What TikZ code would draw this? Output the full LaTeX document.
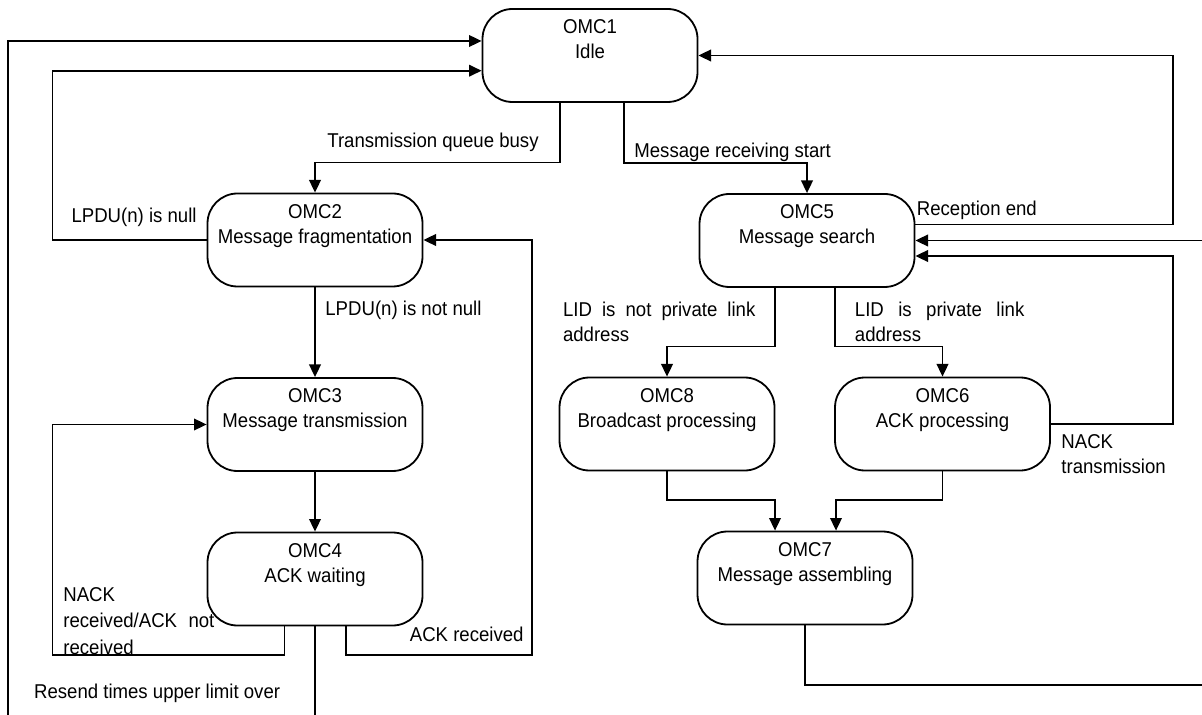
\documentclass[tikz,border=0pt]{standalone}
\usepackage{fontspec}
\setmainfont{Liberation Sans}[FakeStretch=0.93]
\usetikzlibrary{arrows.meta,calc}

\begin{document}
\begin{tikzpicture}[x=0.5pt, y=-0.5pt,
    font=\fontsize{10pt}{12.5pt}\selectfont,
    state/.style={draw, line width=0.9pt, rounded corners=15pt,
        minimum width=107.5pt, minimum height=46.5pt, align=center},
    arr/.style={line width=0.9pt, -{Triangle[length=6.3pt,width=5.8pt]}},
    lbl/.style={inner sep=0pt, align=left}]
    % Frame
    \fill[white] (0,0) rectangle (1202,715);
    \useasboundingbox (0,0) rectangle (1202,715);
    \clip (0,0) rectangle (1202,715);

    % States
    \node[state] (idle)   at (590,55.5)  {OMC1\\Idle\\\strut};
    \node[state] (frag)   at (315,240)   {OMC2\\Message fragmentation\\\strut};
    \node[state] (trans)  at (315,424.5) {OMC3\\Message transmission\\\strut};
    \node[state] (wait)   at (315,579)   {OMC4\\ACK waiting\\\strut};
    \node[state] (search) at (807,240.5) {OMC5\\Message search\\\strut};
    \node[state] (bcast)  at (667,424)   {OMC8\\Broadcast processing\\\strut};
    \node[state] (ackp)   at (942.5,424) {OMC6\\ACK processing\\\strut};
    \node[state] (assem)  at (805,578)   {OMC7\\Message assembling\\\strut};

    % Rails and ports
    \coordinate (railL) at (52.4,0);
    \coordinate (farL) at (7.7,730);
    \coordinate (railR) at (1173,0);
    \coordinate (idleW1) at ([yshift=7.25pt]idle.west);
    \coordinate (idleW2) at ([yshift=-7.6pt]idle.west);
    \coordinate (searchE1) at ([yshift=8pt]search.east);
    \coordinate (searchE2) at ([yshift=-7.75pt]search.east);
    \coordinate (assemL) at ([xshift=-15pt]assem.north);
    \coordinate (assemR) at ([xshift=15.5pt]assem.north);

    % Transitions, left part
    \draw[arr] ([xshift=-15pt]idle.south) |- ($(frag.north)+(0,-30)$) -- (frag.north);
    \draw[arr] (frag.west) -- (frag.west -| railL) |- (idleW2);
    \draw[arr] (frag.south) -- (trans.north);
    \draw[arr] (trans.south) -- (wait.north);
    \draw[arr] ([xshift=15.3pt]wait.south) |- (532,655) |- (frag.east);
    \draw[arr] ([xshift=-15.3pt]wait.south) |- (52.4,655) |- (trans.west);
    \draw[arr] (wait.south) |- (farL) |- (idleW1);

    % Transitions, right part
    \draw[arr] ([xshift=17pt]idle.south) |- ($(search.north)+(0,-30)$) -- (search.north);
    \draw[arr] (searchE1) -| (railR |- idle.east) -- (idle.east);
    \draw[arr] ([xshift=-16pt]search.south) |- ($(bcast.north)+(0,-30)$) -- (bcast.north);
    \draw[arr] ([xshift=14pt]search.south) |- ($(ackp.north)+(0,-30)$) -- (ackp.north);
    \draw[arr] (ackp.east) -| (railR |- searchE2) -- (searchE2);
    \draw[arr] (bcast.south) |- ($(assemL)+(0,-31)$) -- (assemL);
    \draw[arr] (ackp.south) |- ($(assemR)+(0,-31)$) -- (assemR);
    \draw[arr] (assem.south) |- (1220,685) |- (search.east);

    % Labels
    \node[lbl, anchor=base east] (lQueue) at (539,147.5) {Transmission queue busy};
    \node[lbl, anchor=base west] (lRecv) at (634,157.5) {Message receiving start};
    \node[lbl, anchor=base west] (lEnd) at (916.5,216) {Reception end};
    \node[lbl, anchor=base east] (lNull) at (197,222.5) {LPDU(n) is null};
    \node[lbl, anchor=base west] (lNotNull) at (325,316) {LPDU(n) is not null};
    \node[lbl, anchor=north west] (lNotPriv) at (562.6,301.5)
        {\makebox[96.2pt][s]{LID is not private link}\\address};
    \node[lbl, anchor=north west] (lPriv) at (854.5,301.5)
        {\makebox[84.75pt][s]{LID is private link}\\address};
    \node[lbl, anchor=north west] (lNackT) at (1061,434.5) {NACK\\transmission};
    \node[lbl, anchor=north west, font=\fontsize{10pt}{13.3pt}\selectfont] (lNackR) at (63,587)
        {NACK\\\makebox[75.5pt][s]{received/ACK not}\\received};
    \node[lbl, anchor=base west] (lAck) at (409.5,641.5) {ACK received};
    \node[lbl, anchor=base west] (lResend) at (33.7,698) {Resend times upper limit over};
\end{tikzpicture}
\end{document}
